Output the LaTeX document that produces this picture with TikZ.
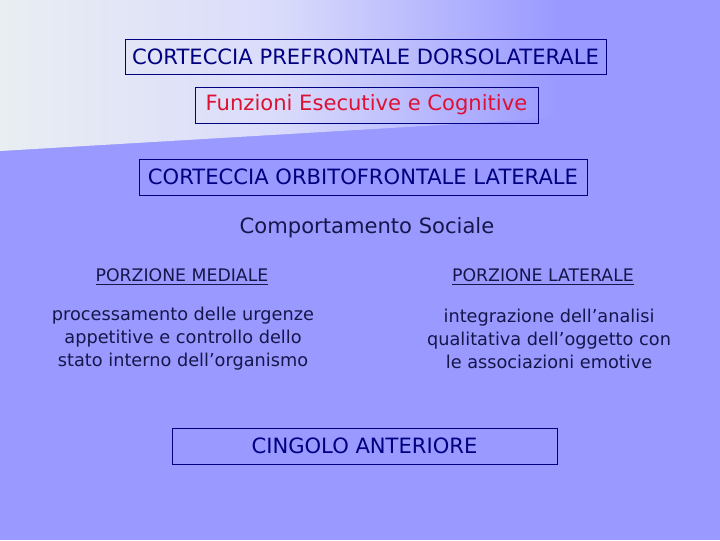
\documentclass[tikz,border=0pt]{standalone}
\usepackage{fontspec}
\setmainfont{DejaVu Sans}
\definecolor{sfondo}{HTML}{9999FF}
\definecolor{chiaro}{HTML}{E9EEF2}
\definecolor{blu}{HTML}{000080}
\definecolor{rosso}{HTML}{DD1133}
\definecolor{testo}{HTML}{16164A}

\begin{document}
\begin{tikzpicture}[x=0.025cm, y=-0.025cm,
    riquadro/.style = {draw = blu, line width = 0.6pt, text = blu, inner sep = 0pt,
        font = \fontsize{15}{17}\selectfont},
    titolo/.style = {text = testo, font = \fontsize{12.3}{14}\selectfont},
    corpo/.style = {text = testo, align = center, font = \fontsize{12.6}{16.3}\selectfont}]
    % sfondo della diapositiva
    \fill [sfondo] (0,0) rectangle (720,540);
    \shade [left color = chiaro, right color = sfondo, middle color = chiaro!50!sfondo!60!white]
        (0,0) -- (560,0) -- (560,118) -- (0,151) -- cycle;
    \useasboundingbox (0,0) rectangle (720,540);
    % riquadri
    \node [riquadro, minimum width = 481*0.025cm, minimum height = 35*0.025cm] (dlpfc) at (365.5,56.5) {CORTECCIA PREFRONTALE DORSOLATERALE};
    \node [riquadro, text = rosso, minimum width = 343*0.025cm, minimum height = 36*0.025cm] (funz) at (366.5,105) {Funzioni Esecutive e Cognitive};
    \node [riquadro, minimum width = 448*0.025cm, minimum height = 36*0.025cm] (ofc) at (363,177) {CORTECCIA ORBITOFRONTALE LATERALE};
    \node [text = testo, font = \fontsize{15}{17}\selectfont] (comp) at (367,228) {Comportamento Sociale};
    % due porzioni
    \node [titolo] (med) at (182,277) {\underline{PORZIONE MEDIALE}};
    \node [titolo] (lat) at (543,277) {\underline{PORZIONE LATERALE}};
    \node [corpo] (medtxt) at (183,339) {processamento delle urgenze\\appetitive e controllo dello\\stato interno dell’organismo};
    \node [corpo] (lattxt) at (549,339) {integrazione dell’analisi\\qualitativa dell’oggetto con\\le associazioni emotive};
    \node [riquadro, minimum width = 385*0.025cm, minimum height = 36*0.025cm] (acc) at (364.5,446) {CINGOLO ANTERIORE};
\end{tikzpicture}
\end{document}
